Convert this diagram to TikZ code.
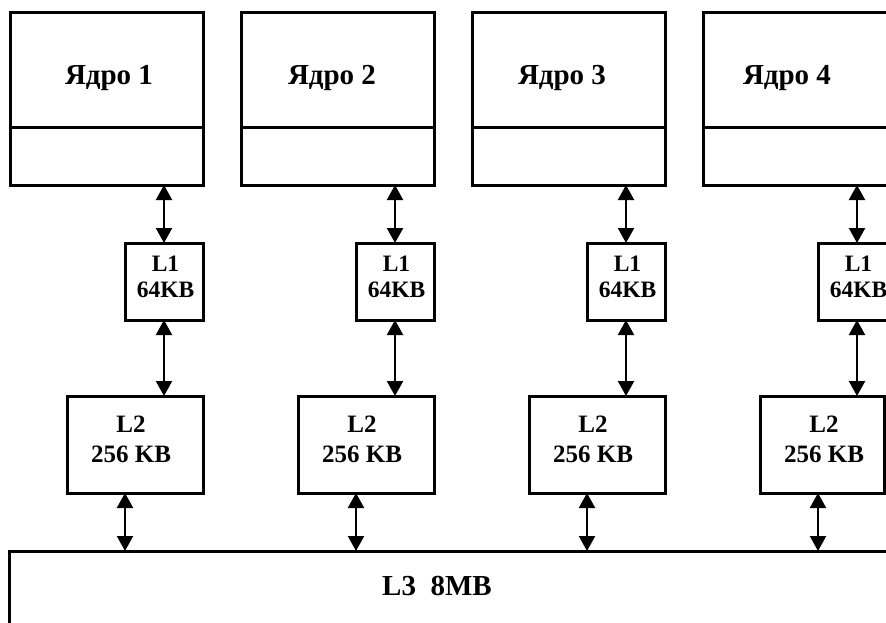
\documentclass[tikz,border=0pt]{standalone}
\usepackage{fontspec}
\setmainfont{Liberation Serif}
\usetikzlibrary{arrows.meta}
\begin{document}
\begin{tikzpicture}[x=1pt,y=-1pt,
  box/.style={draw,line width=3pt,inner sep=0pt,outer sep=0pt},
  coretxt/.style={font=\bfseries\fontsize{29}{32}\selectfont,inner sep=0pt,anchor=base},
  lonetxt/.style={font=\bfseries\fontsize{23.5}{26}\selectfont,inner sep=0pt,align=center,anchor=base},
  ltwotxt/.style={font=\bfseries\fontsize{25}{30}\selectfont,inner sep=0pt,align=center,anchor=base},
  lthreetxt/.style={font=\bfseries\fontsize{29}{32}\selectfont,inner sep=0pt,anchor=base},
  link/.style={line width=2.2pt,{Triangle[width=16pt,length=15pt]}-{Triangle[width=16pt,length=15pt]}}
]
\useasboundingbox (0,0) rectangle (886,622);
\clip (0,0) rectangle (886,622);
% L3
\node[box,minimum width=900pt,minimum height=120pt,anchor=north west] (l3) at (9.5,551) {};
\node[lthreetxt] (t3) at (437,595) {L3\ \ 8MB};
% columns
\foreach \i/\tx in {1/109,2/332,3/562,4/787}{
  \pgfmathsetmacro{\dx}{231*(\i-1)}
  \node[box,minimum width=193pt,minimum height=173pt,anchor=north west] (c\i) at (10+\dx,12) {};
  \draw[line width=3pt] (c\i.west |- 0,127) -- (c\i.east |- 0,127);
  \node[coretxt] (ct\i) at (\tx,84) {Ядро \i};
  \node[box,minimum width=78pt,minimum height=77pt,anchor=north west] (la\i) at (125+\dx,243) {};
  \node[lonetxt] (lat\i) at (165.5+\dx,297) {L1\\64KB};
}
\foreach \i in {1,2,3}{
  \pgfmathsetmacro{\dx}{231*(\i-1)}
  \node[box,minimum width=136pt,minimum height=97pt,anchor=north west] (lb\i) at (67+\dx,396) {};
}
\node[box,minimum width=124pt,minimum height=97pt,anchor=north west] (lb4) at (760,396) {};
\foreach \i in {1,2,3,4}{
  \pgfmathsetmacro{\dx}{231*(\i-1)}
  \node[ltwotxt] (lbt\i) at (131+\dx,462) {L2\\256 KB};
  \draw[link] (la\i.north |- c\i.south) -- (la\i.north);
  \draw[link] (la\i.south) -- (la\i.south |- lb\i.north);
  \draw[link] (lb\i.south -| 125+\dx,0) -- (l3.north -| 125+\dx,0);
}
\end{tikzpicture}
\end{document}
